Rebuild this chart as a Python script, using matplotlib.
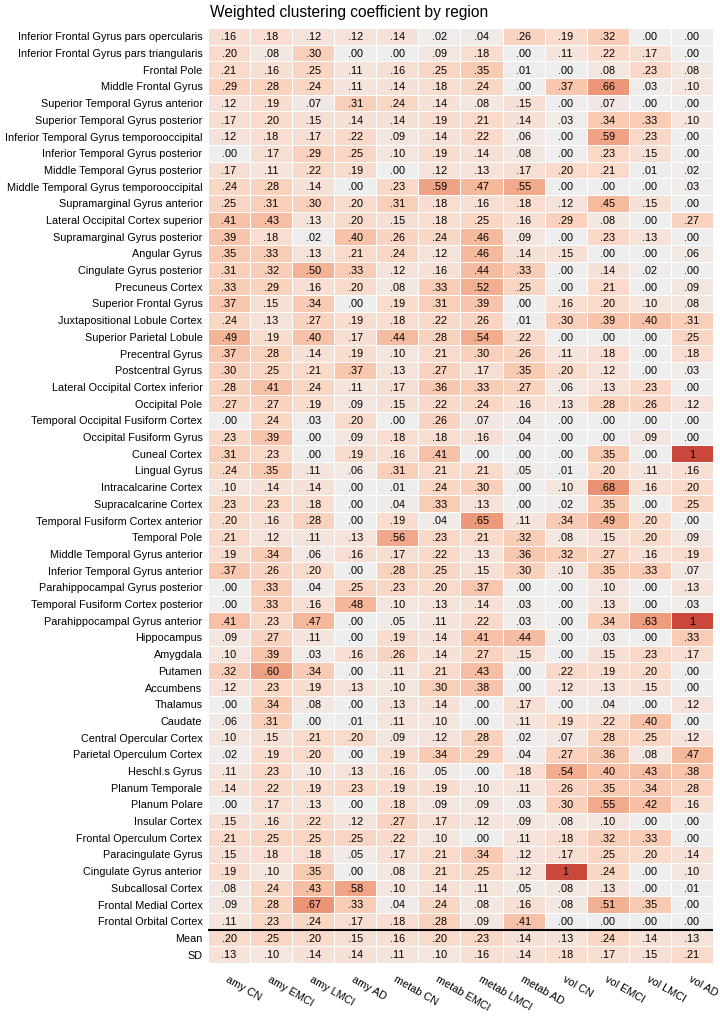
import numpy as np
import matplotlib.pyplot as plt
from matplotlib.colors import LinearSegmentedColormap

plt.rcParams['font.family'] = ['Liberation Sans', 'DejaVu Sans']

regions = [
    'Inferior Frontal Gyrus pars opercularis', 'Inferior Frontal Gyrus pars triangularis',
    'Frontal Pole', 'Middle Frontal Gyrus', 'Superior Temporal Gyrus anterior',
    'Superior Temporal Gyrus posterior', 'Inferior Temporal Gyrus temporooccipital',
    'Inferior Temporal Gyrus posterior', 'Middle Temporal Gyrus posterior',
    'Middle Temporal Gyrus temporooccipital', 'Supramarginal Gyrus anterior',
    'Lateral Occipital Cortex superior', 'Supramarginal Gyrus posterior', 'Angular Gyrus',
    'Cingulate Gyrus posterior', 'Precuneus Cortex', 'Superior Frontal Gyrus',
    'Juxtapositional Lobule Cortex', 'Superior Parietal Lobule', 'Precentral Gyrus',
    'Postcentral Gyrus', 'Lateral Occipital Cortex inferior', 'Occipital Pole',
    'Temporal Occipital Fusiform Cortex', 'Occipital Fusiform Gyrus', 'Cuneal Cortex',
    'Lingual Gyrus', 'Intracalcarine Cortex', 'Supracalcarine Cortex',
    'Temporal Fusiform Cortex anterior', 'Temporal Pole', 'Middle Temporal Gyrus anterior',
    'Inferior Temporal Gyrus anterior', 'Parahippocampal Gyrus posterior',
    'Temporal Fusiform Cortex posterior', 'Parahippocampal Gyrus anterior', 'Hippocampus',
    'Amygdala', 'Putamen', 'Accumbens', 'Thalamus', 'Caudate', 'Central Opercular Cortex',
    'Parietal Operculum Cortex', 'Heschl.s Gyrus', 'Planum Temporale', 'Planum Polare',
    'Insular Cortex', 'Frontal Operculum Cortex', 'Paracingulate Gyrus',
    'Cingulate Gyrus anterior', 'Subcallosal Cortex', 'Frontal Medial Cortex',
    'Frontal Orbital Cortex']

groups = ['amy CN', 'amy EMCI', 'amy LMCI', 'amy AD', 'metab CN', 'metab EMCI',
          'metab LMCI', 'metab AD', 'vol CN', 'vol EMCI', 'vol LMCI', 'vol AD']

# one list per column, rows in region order
amy_cn = [.16, .20, .21, .29, .12, .17, .12, .00, .17, .24, .25, .41, .39, .35, .31, .33, .37, .24,
          .49, .37, .30, .28, .27, .00, .23, .31, .24, .10, .23, .20, .21, .19, .37, .00, .00, .41,
          .09, .10, .32, .12, .00, .06, .10, .02, .11, .14, .00, .15, .21, .15, .19, .08, .09, .11]
amy_emci = [.18, .08, .16, .28, .19, .20, .18, .17, .11, .28, .31, .43, .18, .33, .32, .29, .15, .13,
            .19, .28, .25, .41, .27, .24, .39, .23, .35, .14, .23, .16, .12, .34, .26, .33, .33, .23,
            .27, .39, .60, .23, .34, .31, .15, .19, .23, .22, .17, .16, .25, .18, .10, .24, .28, .23]
amy_lmci = [.12, .30, .25, .24, .07, .15, .17, .29, .22, .14, .30, .13, .02, .13, .50, .16, .34, .27,
            .40, .14, .21, .24, .19, .03, .00, .00, .11, .14, .18, .28, .11, .06, .20, .04, .16, .47,
            .11, .03, .34, .19, .08, .00, .21, .20, .10, .19, .13, .22, .25, .18, .35, .43, .67, .24]
amy_ad = [.12, .00, .11, .11, .31, .14, .22, .25, .19, .00, .20, .20, .40, .21, .33, .20, .00, .19,
          .17, .19, .37, .11, .09, .20, .09, .19, .06, .00, .00, .00, .13, .16, .00, .25, .48, .00,
          .00, .16, .00, .13, .00, .01, .20, .00, .13, .23, .00, .12, .25, .05, .00, .58, .33, .17]
metab_cn = [.14, .00, .16, .14, .24, .14, .09, .10, .00, .23, .31, .15, .26, .24, .12, .08, .19, .18,
            .44, .10, .13, .17, .15, .00, .18, .16, .31, .01, .04, .19, .56, .17, .28, .23, .10, .05,
            .19, .26, .11, .10, .13, .11, .09, .19, .16, .19, .18, .27, .22, .17, .08, .10, .04, .18]
metab_emci = [.02, .09, .25, .18, .14, .19, .14, .19, .12, .59, .18, .18, .24, .12, .16, .33, .31, .22,
              .28, .21, .27, .36, .22, .26, .18, .41, .21, .24, .33, .04, .23, .22, .25, .20, .13, .11,
              .14, .14, .21, .30, .14, .10, .12, .34, .05, .19, .09, .17, .10, .21, .21, .14, .24, .28]
metab_lmci = [.04, .18, .35, .24, .08, .21, .22, .14, .13, .47, .16, .25, .46, .46, .44, .52, .39, .26,
              .54, .30, .17, .33, .24, .07, .16, .00, .21, .30, .13, .65, .21, .13, .15, .37, .14, .22,
              .41, .27, .43, .38, .00, .00, .28, .29, .00, .10, .09, .12, .00, .34, .25, .11, .08, .09]
metab_ad = [.26, .00, .01, .00, .15, .14, .06, .08, .17, .55, .18, .16, .09, .14, .33, .25, .00, .01,
            .22, .26, .35, .27, .16, .04, .04, .00, .05, .00, .00, .11, .32, .36, .30, .00, .03, .03,
            .44, .15, .00, .00, .17, .11, .02, .04, .18, .11, .03, .09, .11, .12, .12, .05, .16, .41]
vol_cn = [.19, .11, .00, .37, .00, .03, .00, .00, .20, .00, .12, .29, .00, .15, .00, .00, .16, .30,
          .00, .11, .20, .06, .13, .00, .00, .00, .01, .10, .02, .34, .08, .32, .10, .00, .00, .00,
          .00, .00, .22, .12, .00, .19, .07, .27, .54, .26, .30, .08, .18, .17, 1.0, .08, .08, .00]
vol_emci = [.32, .22, .08, .66, .07, .34, .59, .23, .21, .00, .45, .08, .23, .00, .14, .21, .20, .39,
            .00, .18, .12, .13, .28, .00, .00, .35, .20, .68, .35, .49, .15, .27, .35, .10, .13, .34,
            .03, .15, .19, .13, .04, .22, .28, .36, .40, .35, .55, .10, .32, .25, .24, .13, .51, .00]
vol_lmci = [.00, .17, .23, .03, .00, .33, .23, .15, .01, .00, .15, .00, .13, .00, .02, .00, .10, .40,
            .00, .00, .00, .23, .26, .00, .09, .00, .11, .16, .00, .20, .20, .16, .33, .00, .00, .63,
            .00, .23, .20, .15, .00, .40, .25, .08, .43, .34, .42, .00, .33, .20, .00, .00, .35, .00]
vol_ad = [.00, .00, .08, .10, .00, .10, .00, .00, .02, .03, .00, .27, .00, .06, .00, .09, .08, .31,
          .25, .18, .03, .00, .12, .00, .00, 1.0, .16, .20, .25, .00, .09, .19, .07, .13, .03, 1.0,
          .33, .17, .00, .00, .12, .00, .12, .47, .38, .28, .16, .00, .00, .14, .10, .01, .00, .00]

mean_row = [.20, .25, .20, .15, .16, .20, .23, .14, .13, .24, .14, .13]
sd_row = [.13, .10, .14, .14, .11, .10, .16, .14, .18, .17, .15, .21]

cols = [amy_cn, amy_emci, amy_lmci, amy_ad, metab_cn, metab_emci,
        metab_lmci, metab_ad, vol_cn, vol_emci, vol_lmci, vol_ad]
mat = np.vstack([np.array(cols).T, mean_row, sd_row])
labels = regions + ['Mean', 'SD']
nrow, ncol = mat.shape

cmap = LinearSegmentedColormap.from_list('wcc', [
    (0.0, '#eeeeee'), (0.1, '#f4e5de'), (0.2, '#f9dbcc'), (0.35, '#f9cab2'),
    (0.5, '#f4b395'), (0.66, '#eb9778'), (1.0, '#c9473b')])

fig = plt.figure(figsize=(7.2, 10.17), dpi=100)
ax = fig.add_axes([208 / 720, 1 - 963 / 1017, 505 / 720, 935 / 1017])
ax.pcolormesh(np.arange(ncol + 1), np.arange(nrow + 1), mat, cmap=cmap, vmin=0, vmax=1,
              edgecolors='white', linewidth=0.6)
ax.set_xlim(0, ncol)
ax.set_ylim(nrow, 0)

for i in range(nrow):
    for j in range(ncol):
        v = mat[i, j]
        txt = '1' if v >= 1 else f'{v:.2f}'.lstrip('0')
        ax.text(j + 0.5, i + 0.55, txt, ha='center', va='center', fontsize=7.8, color='black')

ax.axhline(len(regions), color='black', linewidth=1.5)

ax.set_yticks(np.arange(nrow) + 0.5)
ax.set_yticklabels(labels, fontsize=7.8)
ax.set_xticks(np.arange(ncol) + 0.5)
ax.set_xticklabels(groups, fontsize=7.8, rotation=-30, ha='left', rotation_mode='anchor')
ax.tick_params(axis='y', length=0, pad=4)
ax.tick_params(axis='x', length=0, pad=8)
for s in ax.spines.values():
    s.set_visible(False)

fig.text(210 / 720, 1 - 12 / 1017, 'Weighted clustering coefficient by region',
         fontsize=11.2, ha='left', va='center')

fig.savefig('out.png', dpi=100)
